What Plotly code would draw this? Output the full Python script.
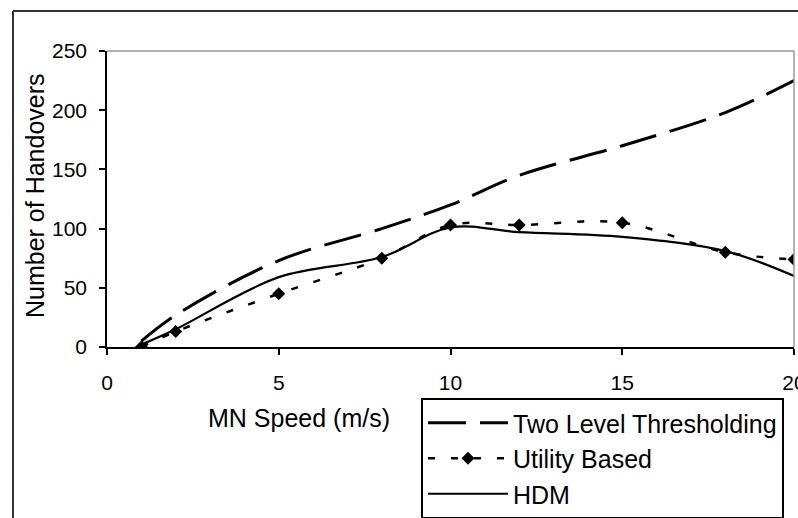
import plotly.graph_objects as go

speed = [1, 2, 5, 8, 10, 12, 15, 18, 20]
two_level = [5, 27, 73, 100, 120, 145, 170, 198, 225]
utility = [0, 13, 45, 75, 103, 103, 105, 80, 74]
hdm = [2, 15, 59, 76, 101, 97, 93, 81, 60]

x_ticks = [0, 5, 10, 15, 20]
y_ticks = [0, 50, 100, 150, 200, 250]

W, H = 798, 518
L, R, T, B = 107, 794, 51, 347
pw, ph = R - L, B - T

def px(xp):
    return (xp - L) / pw

def py(yp):
    return (B - yp) / ph

fig = go.Figure()
fig.add_trace(go.Scatter(x=speed, y=two_level, mode="lines", name="Two Level Thresholding",
                         legendgroup="a",
                         line=dict(color="black", width=3, dash="38px,14px", shape="spline")))
fig.add_trace(go.Scatter(x=speed, y=utility, mode="lines+markers", name="Utility Based",
                         legendgroup="b",
                         line=dict(color="black", width=2.5, dash="7px,16px", shape="spline"),
                         marker=dict(symbol="diamond", size=10, color="black")))
fig.add_trace(go.Scatter(x=speed, y=hdm, mode="lines", name="HDM",
                         legendgroup="c",
                         line=dict(color="black", width=2.2, shape="spline")))

font = "Liberation Sans, Arial, sans-serif"

fig.update_layout(
    width=W, height=H,
    margin=dict(l=L, r=W - R, t=T, b=H - B, autoexpand=False),
    paper_bgcolor="white", plot_bgcolor="white",
    font=dict(family=font, color="black", size=21),
    showlegend=True,
    legend=dict(x=px(421), y=py(398), xanchor="left", yanchor="top",
                bordercolor="black", borderwidth=2, bgcolor="white",
                font=dict(size=25, family=font, color="black"),
                itemwidth=80, tracegroupgap=0, traceorder="grouped"),
    xaxis=dict(range=[0, 20], tickvals=x_ticks, showgrid=False, zeroline=False,
               showline=True, linecolor="black", linewidth=1.5,
               ticks="outside", ticklen=6, tickwidth=1.5, tickcolor="black",
               ticklabelstandoff=10, ticklabeloverflow="allow", tickfont=dict(size=21)),
    yaxis=dict(range=[0, 250], tickvals=y_ticks, showgrid=False, zeroline=False,
               showline=True, linecolor="black", linewidth=1.5,
               ticks="outside", ticklen=6, tickwidth=1.5, tickcolor="black",
               ticklabelstandoff=8, tickfont=dict(size=21)),
    annotations=[
        dict(text="MN Speed (m/s)", x=px(299), y=py(418), xref="paper", yref="paper",
             showarrow=False, font=dict(size=25), xanchor="center", yanchor="middle"),
        dict(text="Number of Handovers", x=px(35), y=py(196), xref="paper", yref="paper",
             showarrow=False, font=dict(size=25), textangle=-90,
             xanchor="center", yanchor="middle"),
    ],
    shapes=[
        dict(type="line", xref="paper", yref="paper", x0=0, x1=1, y0=1, y1=1,
             line=dict(color="#999999", width=1.5)),
        dict(type="line", xref="paper", yref="paper", x0=1, x1=1, y0=0, y1=1,
             line=dict(color="#999999", width=1.5)),
        dict(type="line", xref="paper", yref="paper", x0=px(13), x1=px(820), y0=py(11), y1=py(11),
             line=dict(color="#333333", width=2)),
        dict(type="line", xref="paper", yref="paper", x0=px(13), x1=px(13), y0=py(11), y1=py(540),
             line=dict(color="#333333", width=2)),
    ],
)

fig.write_html("out.html",
               config={"displayModeBar": False},
               post_script="document.body.style.margin='0px';document.body.style.overflow='hidden';")
